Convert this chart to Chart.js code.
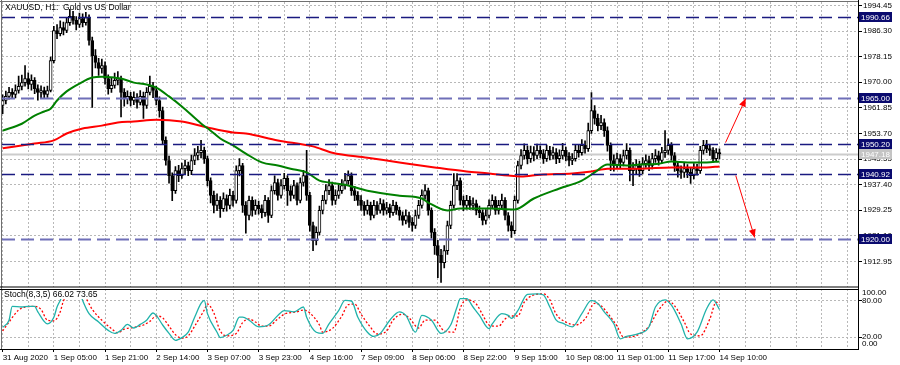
<!DOCTYPE html>
<html>
<head>
<meta charset="utf-8">
<script src="https://cdn.jsdelivr.net/npm/chart.js@4.4.1/dist/chart.umd.min.js"></script>
<style>
  html, body { margin: 0; padding: 0; background: #fff; }
  #wrap { position: relative; width: 900px; height: 365px; overflow: hidden; background: #fff; }
  .pane { position: absolute; left: 0; width: 900px; }
</style>
</head>
<body>
<div id="wrap">
  <div class="pane" style="top:0;height:288px"><canvas id="cMain"></canvas></div>
  <div class="pane" style="top:288px;height:77px"><canvas id="cStoch"></canvas></div>
</div>
<script>
// XAUUSD H1, 31 Aug - 14 Sep 2020
const openFirst = 1962.6;
const closes = [
  1964.2,1965.5,1966.8,1966.1,1967.4,1968.7,1969.9,1971.2,1969.3,1970.6,1968.0,1966.8,1967.4,1966.1,1967.4,1976.9,
  1986.5,1985.5,1987.4,1986.5,1989.0,1991.0,1989.7,1988.4,1990.3,1989.0,1990.6,1983.3,1978.5,1976.3,1974.4,1975.3,
  1971.2,1968.0,1969.0,1970.6,1971.2,1966.8,1964.8,1965.5,1964.2,1965.2,1963.6,1965.5,1962.6,1966.8,1968.7,1967.4,
  1964.2,1961.0,1951.5,1945.1,1940.3,1935.5,1941.9,1940.3,1942.5,1943.5,1941.9,1945.1,1946.7,1947.6,1948.3,1945.7,
  1938.7,1934.0,1930.8,1932.4,1929.8,1933.0,1930.8,1934.0,1932.4,1941.9,1943.5,1930.8,1927.6,1932.4,1929.2,1930.8,
  1929.8,1928.5,1932.4,1927.6,1935.5,1938.1,1934.0,1937.1,1939.4,1935.5,1934.0,1937.1,1932.4,1938.1,1940.3,1934.0,
  1924.4,1919.6,1922.2,1929.2,1932.4,1935.5,1937.1,1932.4,1934.0,1935.5,1937.1,1938.7,1940.3,1935.5,1934.0,1932.4,
  1930.8,1929.2,1930.8,1927.6,1930.8,1929.2,1931.4,1929.2,1930.1,1928.5,1930.8,1929.2,1927.6,1926.0,1927.6,1925.4,
  1924.4,1927.6,1930.8,1934.0,1935.5,1929.2,1922.2,1918.0,1914.9,1912.6,1916.4,1924.4,1930.8,1937.1,1938.7,1932.4,
  1930.8,1932.4,1930.8,1931.4,1929.2,1928.5,1926.0,1927.6,1930.8,1932.4,1929.2,1930.8,1932.4,1927.6,1924.4,1922.8,
  1932.4,1943.5,1946.7,1948.3,1945.7,1947.6,1946.7,1948.3,1947.3,1945.7,1948.3,1946.7,1947.6,1945.7,1946.7,1948.3,
  1946.4,1945.1,1945.7,1948.3,1947.6,1949.9,1948.9,1954.6,1961.0,1958.5,1956.2,1957.2,1954.6,1949.9,1945.1,1943.5,
  1945.7,1944.5,1946.7,1948.3,1941.9,1942.5,1943.5,1941.9,1944.1,1945.1,1943.5,1945.7,1946.7,1945.1,1947.6,1948.3,
  1949.9,1946.7,1943.5,1941.9,1941.3,1942.5,1941.3,1940.3,1942.5,1941.9,1948.3,1949.9,1948.9,1948.3,1945.7,1947.6,
  1947.18
];
const highs = [
  1966.0,1967.2,1968.4,1968.0,1969.2,1972.0,1972.3,1975.3,1973.0,1972.4,1971.5,1969.2,1968.9,1968.5,1968.8,1978.0,
  1987.8,1988.4,1989.6,1989.2,1990.5,1993.2,1992.6,1990.9,1992.0,1991.8,1992.3,1991.5,1984.4,1980.4,1977.6,1977.4,
  1976.5,1972.4,1971.5,1972.9,1973.4,1972.0,1968.0,1967.3,1966.8,1967.0,1966.4,1967.4,1966.9,1968.3,1972.0,1970.0,
  1968.8,1965.4,1962.1,1952.6,1946.5,1941.2,1943.2,1943.6,1944.3,1945.2,1944.6,1946.8,1948.9,1949.6,1951.5,1949.4,
  1946.5,1939.6,1935.4,1934.5,1933.6,1934.8,1934.2,1936.0,1935.3,1943.4,1945.7,1944.2,1932.0,1933.8,1933.5,1932.6,
  1932.2,1931.0,1934.0,1933.3,1937.0,1940.2,1939.2,1939.0,1941.0,1940.3,1937.0,1938.8,1938.0,1939.6,1942.0,1948.3,
  1935.0,1925.5,1924.0,1930.6,1934.0,1937.4,1939.0,1938.2,1935.8,1937.4,1939.0,1941.0,1941.8,1941.2,1936.9,1935.2,
  1933.9,1932.0,1932.5,1931.9,1932.4,1932.0,1933.0,1932.6,1931.8,1931.2,1932.4,1931.9,1930.3,1928.8,1929.4,1928.7,
  1926.9,1929.3,1932.4,1935.8,1937.4,1936.3,1930.0,1923.4,1919.7,1916.8,1918.0,1925.8,1932.2,1940.9,1940.9,1939.6,
  1933.8,1934.0,1933.7,1933.2,1932.5,1930.6,1929.4,1929.5,1932.6,1934.2,1933.6,1932.4,1934.4,1933.3,1928.5,1925.6,
  1933.8,1944.9,1948.6,1950.4,1949.8,1949.7,1949.5,1950.3,1949.8,1948.6,1950.0,1949.6,1949.4,1948.9,1948.5,1950.6,
  1949.4,1947.6,1947.3,1950.2,1950.0,1951.8,1951.4,1957.0,1966.7,1962.6,1959.9,1959.5,1958.4,1955.8,1950.7,1946.9,
  1947.5,1947.0,1948.4,1950.5,1949.1,1944.4,1945.4,1944.9,1946.0,1946.9,1946.5,1947.4,1948.6,1948.1,1949.3,1954.6,
  1952.0,1950.8,1947.6,1944.8,1943.4,1944.2,1943.8,1942.6,1944.1,1943.9,1949.6,1951.5,1951.5,1950.0,1949.2,1948.9,
  1948.8
];
const lows = [
  1960.0,1963.1,1964.6,1964.9,1965.0,1966.5,1967.6,1968.8,1967.9,1967.5,1966.4,1964.3,1965.0,1964.8,1965.2,1966.9,
  1976.2,1983.9,1984.8,1985.1,1985.8,1988.1,1988.5,1986.7,1987.5,1987.6,1988.2,1981.8,1962.0,1974.6,1972.2,1972.9,
  1969.4,1966.2,1966.8,1968.1,1969.2,1959.0,1962.4,1963.1,1962.5,1962.9,1961.8,1962.8,1958.5,1961.7,1966.0,1965.1,
  1962.8,1958.9,1950.2,1943.6,1937.9,1932.3,1934.6,1938.4,1939.4,1940.9,1940.3,1940.6,1943.8,1945.3,1945.9,1944.2,
  1937.0,1931.6,1928.4,1929.1,1927.0,1928.9,1929.0,1929.7,1930.6,1931.5,1940.2,1928.6,1922.0,1926.2,1927.4,1927.9,
  1928.0,1926.8,1927.3,1925.4,1926.9,1934.4,1932.5,1933.1,1936.0,1930.8,1932.2,1933.0,1931.0,1931.6,1936.9,1932.4,
  1922.6,1916.4,1918.2,1921.4,1928.1,1931.3,1934.2,1930.9,1931.1,1933.0,1934.6,1936.0,1937.5,1934.0,1932.3,1930.8,
  1929.2,1927.6,1928.0,1926.2,1926.8,1927.9,1928.3,1927.7,1928.0,1927.0,1927.6,1927.9,1926.1,1924.5,1924.9,1923.8,
  1922.6,1923.5,1926.7,1929.9,1932.8,1927.7,1920.4,1915.2,1907.8,1906.3,1910.9,1915.2,1923.4,1929.9,1935.8,1931.0,
  1929.1,1929.6,1929.5,1929.4,1927.8,1926.9,1924.6,1924.8,1926.8,1929.9,1927.9,1928.0,1929.6,1926.2,1922.6,1920.6,
  1921.8,1931.5,1942.4,1945.5,1944.0,1944.5,1945.0,1945.6,1945.9,1944.2,1944.8,1945.3,1945.5,1944.1,1944.4,1945.6,
  1945.0,1943.4,1943.8,1944.9,1946.2,1946.8,1947.4,1948.0,1953.7,1956.7,1954.5,1954.9,1952.8,1948.1,1941.9,1941.7,
  1942.6,1942.8,1943.4,1945.6,1938.6,1937.1,1940.6,1940.0,1940.8,1942.9,1941.9,1942.4,1944.5,1943.6,1944.2,1946.1,
  1947.0,1945.2,1941.6,1939.8,1939.4,1939.7,1939.6,1937.8,1939.2,1940.4,1941.0,1947.1,1947.6,1946.7,1944.6,1944.8,
  1945.6
];
const opens = closes.map((c, i) => i === 0 ? openFirst : closes[i - 1]);

// moving averages (bar index, price)
const maFastIdx = [0,6,10,13,15,17,20,24,28,31,35,37,41,45,48,52,56,62,65,68,72,76,81,86,90,95,99,102,107,114,124,131,133,139,143,152,160,166,174,181,185,189,195,199,205,209,214,220,224];
const maFastVal = [1954.6,1956.8,1959.4,1960.7,1961.6,1964.2,1967.1,1969.6,1971.5,1971.8,1971.5,1971.2,1969.9,1969.3,1968.3,1965.5,1962.3,1956.9,1954.6,1952.1,1949.9,1947.3,1944.5,1943.5,1942.5,1941.3,1938.7,1938.1,1937.4,1935.5,1933.9,1933.0,1931.7,1929.2,1929.8,1929.8,1929.5,1933.0,1936.2,1938.7,1941.3,1943.8,1943.5,1943.8,1944.1,1944.8,1944.5,1944.5,1944.8];
const maSlowIdx = [0,10,16,20,25,31,36,41,48,56,64,72,76,86,97,103,114,124,135,145,152,158,162,168,178,184,189,199,209,220,224];
const maSlowVal = [1949.0,1950.5,1951.5,1953.7,1955.3,1956.2,1957.2,1957.5,1958.1,1957.5,1955.6,1954.0,1953.7,1951.5,1949.6,1947.6,1946.0,1944.5,1942.9,1941.6,1941.0,1940.3,1940.0,1940.6,1941.0,1941.6,1942.5,1942.5,1942.9,1942.9,1943.2];

// stochastic (8,3,5)
const kIdx = [0,2,3,6,8,10,11,14,16,17,18,19,21,24,25,27,30,33,35,37,39,41,43,45,47,48,50,52,54,56,58,60,62,63,64,67,68,70,72,74,75,77,80,83,86,88,91,94,95,98,100,102,105,107,109,111,114,116,118,121,124,126,129,131,134,137,140,142,143,145,147,149,152,153,156,158,159,161,164,167,169,171,173,175,178,181,184,186,188,191,193,195,199,202,204,207,209,212,214,217,220,222,224];
const kVal = [36,48,71,70,71,71,62,42,53,70,81,93,97,96,81,59,45,31,26,31,41,35,41,48,60,56,40,26,14.5,19,28,53,76,81,59,28,19,23,31,53,53,48,37,40,56,64,62,70,53,28,26,42,64,81,80,53,28,21,26,48,62,56,28,56,48,26,40,70,84,84,70,56,34,42,59,56,51,64,91,92,90,70,48,43,37,59,81,76,62,42,17,21,26,37,70,82,73,42,17,28,67,82,66.02];
const dIdx = [0,2,5,7,10,12,14,16,18,19,21,24,26,28,31,34,36,38,41,44,46,48,50,52,54,56,58,60,63,64,66,68,70,73,75,77,79,81,83,86,88,92,94,96,99,100,103,106,108,110,112,115,117,120,122,125,127,130,132,135,138,141,143,145,148,150,152,155,157,159,161,163,166,169,171,173,176,179,182,185,187,189,192,194,196,199,202,205,208,210,213,215,218,221,223,224];
const dVal = [30,45,65,70,71,66,48,47,62,80,92,97,85,66,48,34,27,33,36,40,46,55,52,38,24,18,22,38,65,75,60,30,22,26,44,50,45,38,38,50,58,62,65,60,40,28,34,55,74,75,58,36,25,30,48,58,52,35,48,48,30,28,68,82,75,57,40,38,50,55,55,78,90,92,82,58,45,40,50,76,72,60,38,20,20,25,38,65,80,72,45,25,22,50,78,73.65];

const yTicks = [1994.45,1986.30,1978.15,1970.00,1961.85,1953.70,1945.55,1937.40,1929.25,1921.10,1912.95];
const timeLabelIdx = [0,16,32,48,64,80,96,112,128,144,160,176,192,208,224];
const timeLabels = ['31 Aug 2020','1 Sep 05:00','1 Sep 21:00','2 Sep 14:00','3 Sep 07:00','3 Sep 23:00','4 Sep 16:00','7 Sep 09:00','8 Sep 06:00','8 Sep 22:00','9 Sep 15:00','10 Sep 08:00','11 Sep 01:00','11 Sep 17:00','14 Sep 10:00'];

const levels = [1990.66, 1965.00, 1950.20, 1940.92, 1920.00];
const levelColors = ['#1a1a80', '#6f6fb8', '#1a1a80', '#1a1a80', '#6f6fb8'];
const levelWidths = [1.3, 2, 1.3, 1.3, 2];
const bidPrice = 1947.18;
// hand drawn arrows: [bar index, price]
const arrowFrom = [[225.9, 1950.8], [229.1, 1940.3]];
const arrowTo = [[232.2, 1964.8], [235.0, 1920.6]];

const titleText = 'XAUUSD, H1:  Gold vs US Dollar';
const stochText = 'Stoch(8,3,5) 66.02 73.65';

const FONT = '"Liberation Sans", Arial, sans-serif';
const xMin = -0.2, xMax = 267.3;
const gridIdx = Array.from({length: 34}, (_, k) => k * 8);
const gridColor = '#b8b8b8';

function hline(ctx, x1, x2, y, color, w) {
  ctx.strokeStyle = color; ctx.lineWidth = w;
  ctx.beginPath(); ctx.moveTo(x1, y); ctx.lineTo(x2, y); ctx.stroke();
}
function vline(ctx, x, y1, y2, color, w) {
  ctx.strokeStyle = color; ctx.lineWidth = w;
  ctx.beginPath(); ctx.moveTo(x, y1); ctx.lineTo(x, y2); ctx.stroke();
}
// no extra label padding, the plot must fill the pane
const noPad = s => { s.paddingTop = 0; s.paddingBottom = 0; s.paddingLeft = 0; s.paddingRight = 0; };

const mainPlugin = {
  id: 'mainDeco',
  beforeDatasetsDraw(chart) {
    const {ctx, chartArea: a, scales: {y}} = chart;
    ctx.save();
    hline(ctx, a.left, a.right, Math.round(y.getPixelForValue(bidPrice)) + 0.5, '#cccccc', 2);
    ctx.restore();
  },
  afterDatasetsDraw(chart) {
    const {ctx, chartArea: a, scales: {x, y}} = chart;
    ctx.save();
    ctx.beginPath(); ctx.rect(a.left, a.top, a.right - a.left, a.bottom - a.top); ctx.clip();
    levels.forEach((v, i) => {
      ctx.setLineDash([13, 6]);
      hline(ctx, a.left, a.right, Math.round(y.getPixelForValue(v)) + 0.5, levelColors[i], levelWidths[i]);
    });
    ctx.setLineDash([]);
    arrowFrom.forEach((f, i) => {
      const x1 = x.getPixelForValue(f[0]), y1 = y.getPixelForValue(f[1]);
      const x2 = x.getPixelForValue(arrowTo[i][0]), y2 = y.getPixelForValue(arrowTo[i][1]);
      const ang = Math.atan2(y2 - y1, x2 - x1);
      ctx.strokeStyle = '#ff0000'; ctx.fillStyle = '#ff0000'; ctx.lineWidth = 1;
      ctx.beginPath(); ctx.moveTo(x1, y1); ctx.lineTo(x2, y2); ctx.stroke();
      ctx.beginPath();
      ctx.moveTo(x2, y2);
      ctx.lineTo(x2 - 8 * Math.cos(ang) + 3.5 * Math.sin(ang), y2 - 8 * Math.sin(ang) - 3.5 * Math.cos(ang));
      ctx.lineTo(x2 - 8 * Math.cos(ang) - 3.5 * Math.sin(ang), y2 - 8 * Math.sin(ang) + 3.5 * Math.cos(ang));
      ctx.closePath(); ctx.fill();
    });
    ctx.restore();
  },
  afterDraw(chart) {
    const {ctx, chartArea: a, scales: {y}} = chart;
    ctx.save();
    // frame
    hline(ctx, 0, a.right, 1.5, '#707070', 1);
    vline(ctx, 1.5, 0, chart.height, '#707070', 1);
    vline(ctx, a.right + 0.5, 0, chart.height, '#000', 1);
    hline(ctx, 0, a.right, a.bottom + 0.5, '#000', 1);
    // title
    ctx.font = '8.5px ' + FONT; ctx.fillStyle = '#000';
    ctx.textBaseline = 'middle'; ctx.textAlign = 'left';
    ctx.fillText(titleText, 5, 7.5);
    // price boxes
    ctx.font = '8px ' + FONT;
    const box = (v, bg) => {
      const py = Math.round(y.getPixelForValue(v));
      ctx.fillStyle = bg;
      ctx.fillRect(a.right + 1, py - 5, 33, 10);
      ctx.fillStyle = '#fff';
      ctx.fillText(v.toFixed(2), a.right + 3, py + 0.5);
    };
    box(bidPrice, '#c4c4c4');
    levels.forEach(v => box(v, '#0a0a6e'));
    ctx.restore();
  }
};

new Chart(document.getElementById('cMain'), {
  type: 'bar',
  data: {
    datasets: [
      {
        type: 'line', data: maFastIdx.map((v, i) => ({x: v, y: maFastVal[i]})),
        borderColor: '#008000', borderWidth: 2, pointRadius: 0,
        cubicInterpolationMode: 'monotone', order: 0
      },
      {
        type: 'line', data: maSlowIdx.map((v, i) => ({x: v, y: maSlowVal[i]})),
        borderColor: '#ff0000', borderWidth: 2, pointRadius: 0,
        cubicInterpolationMode: 'monotone', order: 0
      },
      {
        data: closes.map((c, i) => ({x: i, y: [opens[i], c]})),
        grouped: false, barThickness: 3, borderWidth: 1, borderSkipped: false,
        borderColor: '#000',
        backgroundColor: ctx => closes[ctx.dataIndex] >= opens[ctx.dataIndex] ? '#fff' : '#000',
        order: 1
      },
      {
        data: lows.map((l, i) => ({x: i, y: [l, highs[i]]})),
        grouped: false, barThickness: 1, backgroundColor: '#000', order: 2
      }
    ]
  },
  options: {
    responsive: true, maintainAspectRatio: false, animation: false,
    layout: {padding: {left: 2, top: 2, right: 0, bottom: 1.5}},
    plugins: {legend: {display: false}, tooltip: {enabled: false}},
    scales: {
      x: {
        type: 'linear', min: xMin, max: xMax, offset: false,
        grid: {color: gridColor, drawTicks: false, offset: false},
        border: {display: false, dash: [2, 2]},
        ticks: {display: false},
        afterBuildTicks: s => { s.ticks = gridIdx.map(v => ({value: v})); },
        afterFit: s => { s.height = 0; noPad(s); }
      },
      y: {
        position: 'right', min: 1904.99, max: 1995.56,
        grid: {color: gridColor, tickColor: '#000', tickLength: 4},
        border: {display: false, dash: [2, 2]},
        ticks: {
          font: {family: FONT, size: 8}, color: '#000', padding: 1, autoSkip: false,
          callback: v => Number(v).toFixed(2)
        },
        afterBuildTicks: s => { s.ticks = yTicks.map(v => ({value: v})); },
        afterFit: s => { s.width = 42; noPad(s); }
      }
    }
  },
  plugins: [mainPlugin]
});

const stochPlugin = {
  id: 'stochDeco',
  afterDatasetsDraw(chart) {
    const {ctx} = chart;
    ctx.save();
    ctx.font = '8.5px ' + FONT;
    const w = ctx.measureText(stochText).width;
    ctx.fillStyle = '#fff';
    ctx.fillRect(3, 2, w + 3, 9);
    ctx.fillStyle = '#000'; ctx.textBaseline = 'middle'; ctx.textAlign = 'left';
    ctx.fillText(stochText, 4, 6.5);
    ctx.restore();
  },
  afterDraw(chart) {
    const {ctx, chartArea: a, scales: {y}} = chart;
    ctx.save();
    vline(ctx, 1.5, 0, a.bottom, '#707070', 1);
    vline(ctx, a.right + 0.5, 0, a.bottom + 1, '#000', 1);
    hline(ctx, 0, a.right, a.top + 0.5, '#000', 1);
    hline(ctx, 0, a.right + 1, a.bottom + 0.5, '#000', 1);
    ctx.font = '8px ' + FONT; ctx.fillStyle = '#000';
    ctx.textBaseline = 'middle'; ctx.textAlign = 'left';
    ctx.fillText('100.00', a.right + 4, y.getPixelForValue(100) + 4);
    ctx.fillText('80.00', a.right + 4, y.getPixelForValue(80));
    ctx.fillText('20.00', a.right + 4, y.getPixelForValue(20));
    ctx.fillText('0.00', a.right + 4, y.getPixelForValue(0) - 5);
    ctx.restore();
  }
};

const isLevel = c => c.tick && (c.tick.value === 20 || c.tick.value === 80);

new Chart(document.getElementById('cStoch'), {
  type: 'line',
  data: {
    datasets: [
      {
        data: kIdx.map((v, i) => ({x: v, y: kVal[i]})),
        borderColor: '#20b2aa', borderWidth: 1.3, pointRadius: 0,
        cubicInterpolationMode: 'monotone'
      },
      {
        data: dIdx.map((v, i) => ({x: v, y: dVal[i]})),
        borderColor: '#ff0000', borderWidth: 1.3, borderDash: [2, 2], pointRadius: 0,
        cubicInterpolationMode: 'monotone'
      }
    ]
  },
  options: {
    responsive: true, maintainAspectRatio: false, animation: false,
    layout: {padding: {left: 2, top: 1, right: 0, bottom: 0}},
    plugins: {legend: {display: false}, tooltip: {enabled: false}},
    scales: {
      x: {
        type: 'linear', min: xMin, max: xMax, offset: false,
        grid: {
          color: gridColor, tickLength: 3,
          tickColor: c => (c.tick && timeLabelIdx.includes(c.tick.value)) ? '#000' : 'rgba(0,0,0,0)'
        },
        border: {display: false, dash: [2, 2]},
        ticks: {
          autoSkip: false, maxRotation: 0, minRotation: 0, align: 'start', padding: 1,
          font: {family: FONT, size: 8}, color: '#000',
          callback: v => { const k = timeLabelIdx.indexOf(v); return k >= 0 ? timeLabels[k] : ''; }
        },
        afterBuildTicks: s => { s.ticks = gridIdx.map(v => ({value: v})); },
        afterFit: s => { s.height = 16; noPad(s); }
      },
      y: {
        position: 'right', min: 0, max: 100,
        grid: {
          color: c => isLevel(c) ? gridColor : 'rgba(0,0,0,0)',
          tickColor: c => isLevel(c) ? '#000' : 'rgba(0,0,0,0)', tickLength: 4
        },
        border: {display: false, dash: [2, 2]},
        ticks: {display: false},
        afterBuildTicks: s => { s.ticks = [0, 20, 80, 100].map(v => ({value: v})); },
        afterFit: s => { s.width = 42; noPad(s); }
      }
    }
  },
  plugins: [stochPlugin]
});
</script>
</body>
</html>
